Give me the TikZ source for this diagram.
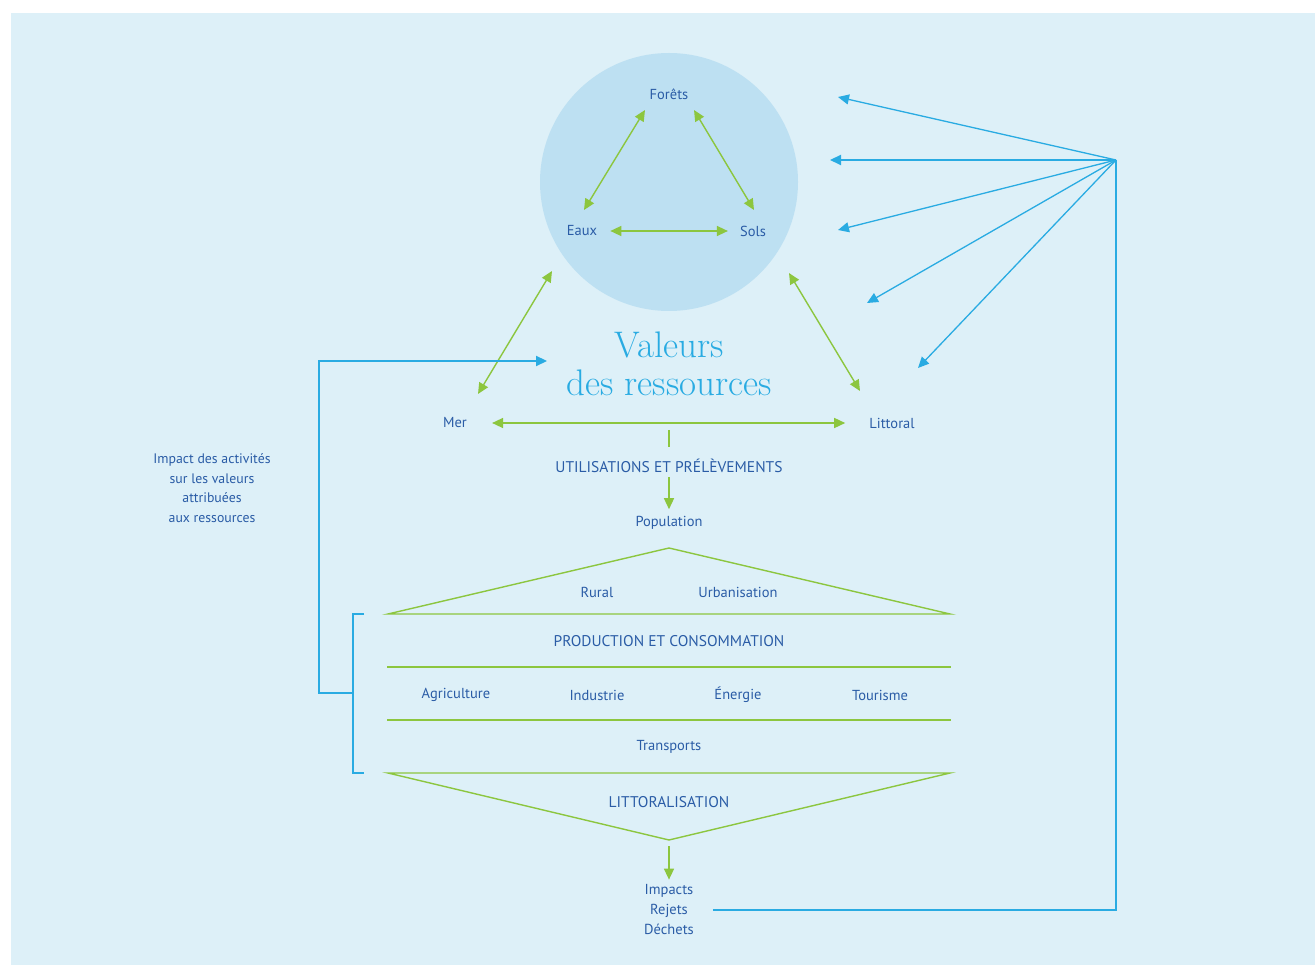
\documentclass[tikz,border=0pt]{standalone}
\usepackage{fontspec}
\setsansfont{PT Sans}
\usepackage{tikz}
\usetikzlibrary{arrows.meta}
\usetikzlibrary{positioning,calc}
\definecolor{bgblue}{HTML}{DDF0F8}
\definecolor{circblue}{HTML}{BDE0F2}
\definecolor{leaf}{HTML}{8CC63F}
\definecolor{sky}{HTML}{29ABE2}
\definecolor{ink}{HTML}{2A5CA6}
\tikzset{
    lbl/.style={
        font=\sffamily\fontsize{14.5}{17}\selectfont,
        text=ink,
        inner sep=1pt
    },
    caps/.style={
        lbl,
        font=\sffamily\fontsize{15.5}{17}\selectfont
    },
    gline/.style={
        draw=leaf,
        line width=1.4pt
    },
    gboth/.style={
        gline,
        {Triangle[length=11pt, width=10pt]}-{Triangle[length=11pt, width=10pt]}
    },
    gone/.style={
        gline,
        -{Triangle[length=11pt, width=10pt]}
    },
    bline/.style={
        draw=sky,
        line width=2.2pt
    },
    barrow/.style={
        draw=sky,
        line width=1.3pt,
        -{Triangle[length=11pt, width=10pt]}
    }
}

\begin{document}
\begin{tikzpicture}[x=1pt, y=-1pt]
  \useasboundingbox (0,0) rectangle (1315,965);
  \fill[bgblue] (11,13) rectangle (1315,965);

  % Create resource circle and its three nodes
  \node[circle, fill=circblue, minimum size=258pt, inner sep=0pt] (ress) at (669,182) {};
  \node[lbl] (forets) at (669,94) {Forêts};
  \node[lbl] (eaux) at (582,231) {Eaux};
  \node[lbl] (sols) at (753,231) {Sols};

  % Draw arrows inside the circle
  \coordinate (fe1) at (645,110);
  \coordinate (fe2) at (584,210);
  \coordinate (fs1) at (694,110);
  \coordinate (fs2) at (754,210);
  \draw[gboth] (fe1) -- (fe2);
  \draw[gboth] (fs1) -- (fs2);
  \draw[gboth, shorten <=12pt, shorten >=11pt] (eaux.east) -- (sols.west);

  % Create title and the two coastal nodes
  \node[font=\rmfamily\fontsize{37}{38}\selectfont, text=sky, align=center] (valeurs) at (669,364) {Valeurs\\des ressources};
  \node[lbl] (mer) at (455,423) {Mer};
  \node[lbl] (littoral) at (892,423) {Littoral};

  % Draw arrows between circle, Mer and Littoral
  \coordinate (cm1) at (552,271);
  \coordinate (cm2) at (478,394);
  \coordinate (cl1) at (789,273);
  \coordinate (cl2) at (860,391);
  \draw[gboth] (cm1) -- (cm2);
  \draw[gboth] (cl1) -- (cl2);
  \draw[gboth, shorten <=24pt, shorten >=23pt] (mer.east) -- (littoral.west);

  % Create uses and population
  \node[caps] (utilis) at (669,466) {UTILISATIONS ET PRÉLÈVEMENTS};
  \node[lbl] (population) at (669,523) {Population};
  \coordinate (ml) at (669,430);
  \draw[gline, shorten >=11pt] (ml) -- (utilis.north);
  \draw[gone, shorten <=3pt, shorten >=6pt] (utilis.south) -- (population.north);

  % Draw production block
  \draw[gline] (388,614) -- (669,548) -- (950,614) -- cycle;
  \draw[gline] (387,667) -- (951,667);
  \draw[gline] (387,720) -- (951,720);
  \draw[gline] (388,773) -- (950,773) -- (669,840) -- cycle;
  \coordinate (lowtip) at (669,840);

  \node[lbl] (rural) at (597,592) {Rural};
  \node[lbl] (urban) at (738,592) {Urbanisation};
  \node[caps] (prod) at (669,641) {PRODUCTION ET CONSOMMATION};
  \node[lbl] (agri) at (456,695) {Agriculture};
  \node[lbl] (indus) at (597,695) {Industrie};
  \node[lbl] (energie) at (738,695) {Énergie};
  \node[lbl] (tourisme) at (880,695) {Tourisme};
  \node[lbl] (transports) at (669,747) {Transports};
  \node[caps] (littoralis) at (669,802) {LITTORALISATION};

  % Create impacts node
  \node[lbl, align=center, font=\sffamily\fontsize{14.5}{20}\selectfont] (impacts) at (669,910) {Impacts\\Rejets\\Déchets};
  \draw[gone, shorten <=6pt, shorten >=4pt] (lowtip) -- (impacts.north);

  % Draw feedback from impacts to the resources
  \coordinate (hub) at (1116,160);
  \draw[bline, shorten <=18pt] (impacts.east) -| (hub);
  \foreach \i/\x/\y in {1/838/97, 2/830/160, 3/838/230, 4/867/303, 5/918/368}
    \coordinate (t\i) at (\x,\y);
  \foreach \i in {1,3,4,5} {
    \draw[barrow] (hub) -- (t\i);
  }
  \draw[barrow, line width=2.2pt] (hub) -- (t2);

  % Draw bracket and link back to the values
  \coordinate (br1) at (364,614);
  \coordinate (br2) at (364,773);
  \coordinate (brmid) at (353,693);
  \coordinate (valin) at (547,361);
  \draw[bline] (br1) -- ++(-11,0) -- ++(0,159) -- (br2);
  \draw[bline, -{Triangle[length=11pt, width=10pt]}] (brmid) -- ++(-34,0) |- (valin);
  \node[lbl, align=center, font=\sffamily\fontsize{13.8}{19.7}\selectfont] (impact) at (212,488) {Impact des activités\\sur les valeurs\\attribuées\\aux ressources};
\end{tikzpicture}
\end{document}
